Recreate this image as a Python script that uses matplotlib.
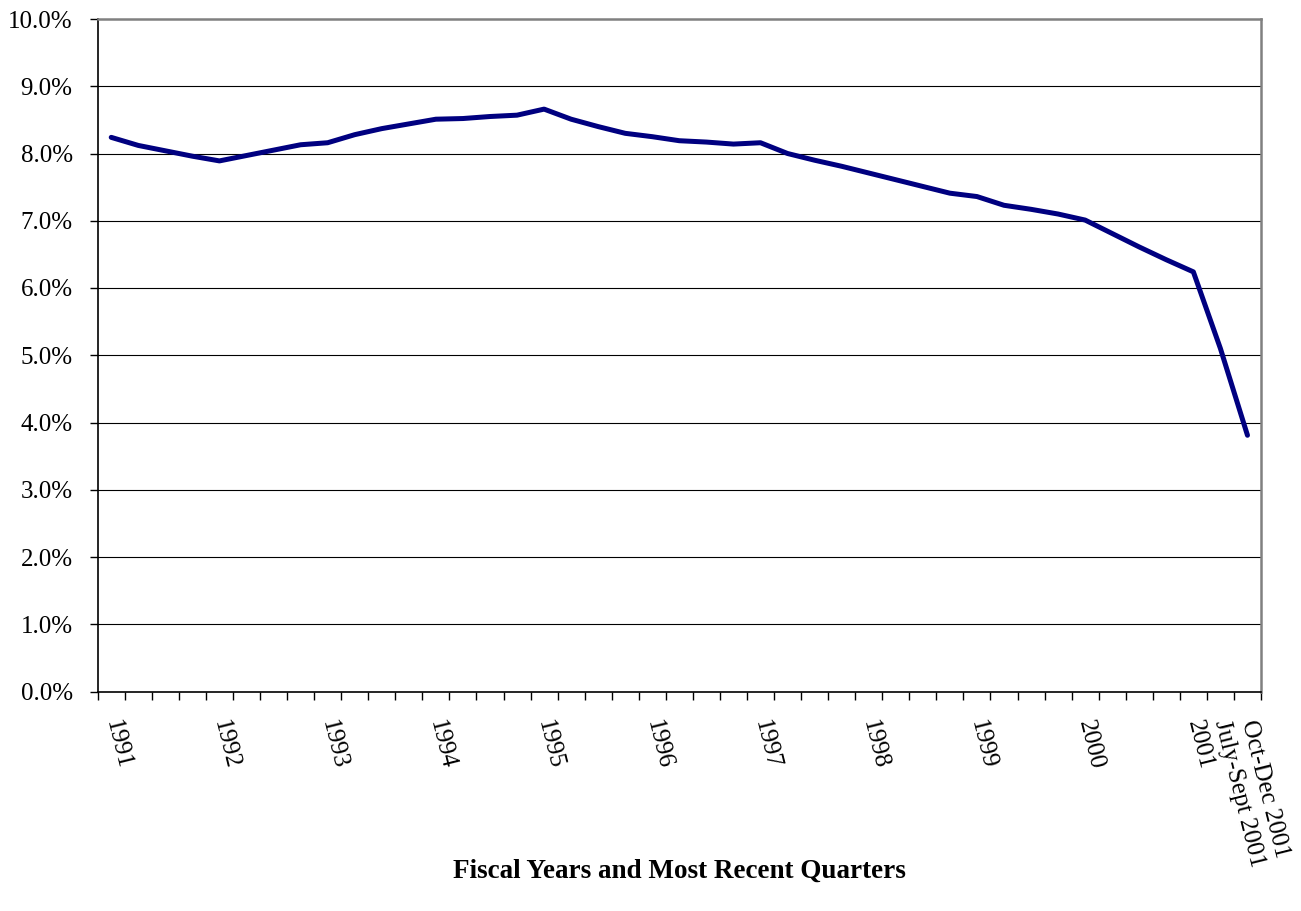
import matplotlib
matplotlib.use("Agg")
import matplotlib.pyplot as plt
from matplotlib.ticker import FuncFormatter
import numpy as np

# ---- data ----
values = [8.24, 8.12, 8.04, 7.96, 7.89, 7.97, 8.05, 8.13, 8.16, 8.28,
          8.37, 8.44, 8.51, 8.52, 8.55, 8.57, 8.66, 8.51, 8.40, 8.30,
          8.25, 8.19, 8.17, 8.14, 8.16, 8.00, 7.90, 7.81, 7.71, 7.61,
          7.51, 7.41, 7.36, 7.23, 7.17, 7.10, 7.01, 6.81, 6.61, 6.42,
          6.24, 5.10, 3.81]
labels = ["1991", "", "", "", "1992", "", "", "", "1993", "", "", "",
          "1994", "", "", "", "1995", "", "", "", "1996", "", "", "",
          "1997", "", "", "", "1998", "", "", "", "1999", "", "", "",
          "2000", "", "", "", "2001", "July-Sept 2001", "Oct-Dec 2001"]
y_ticks = [0, 1, 2, 3, 4, 5, 6, 7, 8, 9, 10]
xlabel = "Fiscal Years and Most Recent Quarters"

plt.rcParams['font.family'] = ['Liberation Serif', 'DejaVu Serif']

W, H = 1301, 911
fig = plt.figure(figsize=(W / 100, H / 100), dpi=100)
ax = fig.add_axes([97.7 / W, 1 - 691.5 / H, (1261 - 97.7) / W, (691.5 - 19) / H])

x = np.arange(len(values))
ax.plot(x, values, color='#000080', lw=3.6, solid_joinstyle='round',
        solid_capstyle='round', zorder=3)

ax.set_xlim(-0.5, len(values) - 0.5)
ax.set_ylim(0, 10)

ax.set_yticks(y_ticks)
ax.yaxis.set_major_formatter(FuncFormatter(lambda v, p: f"{v:.1f}%"))
ax.tick_params(axis='y', direction='out', length=6, width=1, pad=12,
               labelsize=18, color='black')
for yv in y_ticks[1:-1]:
    ax.axhline(yv, color='black', lw=0.8, zorder=1)

# category boundary ticks (major), labels at centres (minor)
ax.set_xticks(np.arange(-0.5, len(values), 1.0))
ax.set_xticklabels([])
ax.tick_params(axis='x', which='major', direction='out', length=5.5, width=1,
               color='black')
ax.set_xticks(x, labels, minor=True)
ax.tick_params(axis='x', which='minor', length=0, pad=21, labelsize=18)
for lab in ax.get_xticklabels(minor=True):
    lab.set_rotation(-76)
    lab.set_rotation_mode('anchor')
    lab.set_ha('left')
    lab.set_va('center')

for s in ['left', 'bottom']:
    ax.spines[s].set_color('black')
    ax.spines[s].set_linewidth(1.2)
for s in ['top', 'right']:
    ax.spines[s].set_color('#808080')
    ax.spines[s].set_linewidth(1.8)

fig.text(679 / W, 1 - 871 / H, xlabel, ha='center', va='center',
         fontsize=19.5, fontweight='bold')

fig.savefig("out.png", dpi=100)
